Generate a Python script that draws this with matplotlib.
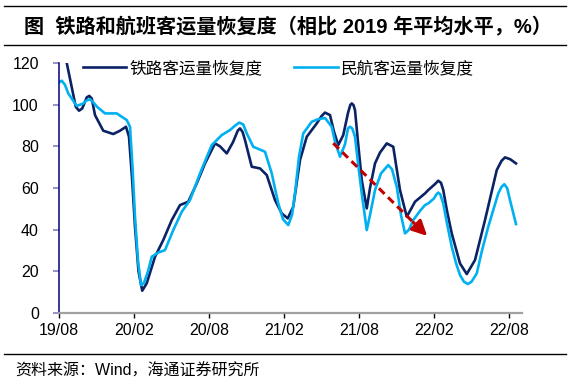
import matplotlib
matplotlib.use("Agg")
import matplotlib.pyplot as plt

plt.rcParams['font.family'] = ['Liberation Sans', 'Noto Sans CJK SC']

# x = months since 2019/08
rail_x = [0.32, 0.62, 1.34, 1.60, 1.86, 2.22, 2.42, 2.62, 2.88, 3.54, 4.34, 4.88, 5.36, 5.60,
          5.84, 6.08, 6.36, 6.66, 7.02, 7.68, 8.34, 9.02, 9.68, 10.34, 11.02, 11.68, 12.48,
          12.88, 13.42, 13.92, 14.30, 14.48, 14.68, 14.88, 15.42, 16.08, 16.62, 17.28, 17.82,
          18.30, 18.74, 19.28, 19.82, 20.62, 21.00, 21.28, 21.68, 22.00, 22.34, 22.74, 23.12,
          23.30, 23.42, 23.56, 23.68, 23.92, 24.22, 24.62, 24.88, 25.28, 25.68, 26.22, 26.74,
          27.28, 27.82, 28.08, 28.48, 29.28, 29.54, 30.10, 30.34, 30.56, 30.74, 31.04, 31.42,
          32.08, 32.62, 33.28, 34.08, 35.02, 35.40, 35.68, 36.10, 36.56]
rail_y = [127, 120, 99, 97.1, 98.2, 103.5, 104.2, 103, 95, 87.5, 85.9, 87.5, 89.4, 84.6,
          65, 41.4, 20, 10.7, 14.3, 27, 35, 44.6, 51.8, 53.4, 62.2, 71.8, 81.4,
          80, 76.6, 82, 87.5, 88.6, 87, 83, 70.2, 69.4, 66.2, 54.2, 47.8,
          45.4, 51, 73.4, 84.6, 91, 94.5, 96.2, 95, 87, 80.6, 85.4, 96,
          99.8, 100.6, 99.8, 97.4, 82, 63.8, 50.2, 60, 71.8, 77, 81.4, 79.8,
          59, 46.2, 49, 53.4, 57.4, 59, 62, 63.5, 62.5, 59, 49, 38.2,
          23.8, 18.7, 25.4, 44.6, 68.6, 73, 74.7, 73.8, 71.8]

air_x = [0.0, 0.22, 0.48, 0.74, 1.42, 1.92, 2.20, 2.48, 2.76, 3.04, 3.68, 4.62, 5.42, 5.68,
         5.88, 6.08, 6.32, 6.56, 6.80, 7.12, 7.42, 7.94, 8.48, 9.14, 9.82, 10.48, 11.28, 12.22,
         13.02, 13.68, 14.10, 14.42, 14.74, 15.02, 15.54, 16.48, 17.02, 17.54, 17.92, 18.34,
         18.64, 18.88, 19.20, 19.54, 20.22, 20.72, 21.28, 21.82, 22.08, 22.48, 22.88, 23.12,
         23.28, 23.46, 23.68, 23.92, 24.22, 24.62, 24.88, 25.28, 25.76, 26.34, 26.64, 27.02,
         27.36, 27.68, 28.00, 28.34, 28.88, 29.28, 29.54, 30.00, 30.20, 30.34, 30.50, 30.74,
         31.04, 31.42, 31.76, 32.08, 32.40, 32.70, 33.00, 33.42, 33.84, 34.34, 35.14, 35.40,
         35.62, 35.85, 36.08, 36.56]
air_y = [110.7, 111.5, 109.5, 105.4, 99.4, 100.5, 102, 102.6, 101, 99, 95.8, 95.8, 92.6, 89.4,
         70, 46.2, 25, 13.4, 14.5, 20, 27, 29, 30.2, 39.8, 48.6, 54.2, 67, 80.6,
         85.4, 87.8, 90, 91.4, 90.5, 86.2, 79.8, 77.4, 67, 52.6, 45, 42.2,
         47, 57.4, 75, 86.2, 91.8, 93, 93.6, 89.4, 82.2, 75, 81, 88.6,
         89.4, 88.6, 84.6, 72, 57.4, 39.8, 47, 59, 67, 71, 69, 60.6,
         47, 38.2, 40, 44.6, 49, 51.8, 52.6, 55, 57, 57.8, 57, 52.6,
         43, 31.8, 24, 18.2, 15, 13.9, 15, 19, 30, 41.4, 57.4, 60.5,
         61.8, 60, 54.2, 42.7]

tick_pos = [0, 6, 12, 18, 24, 30, 36]
tick_labels = ['19/08', '20/02', '20/08', '21/02', '21/08', '22/02', '22/08']

# trend arrow (start, end of dashes, tip)
arr_start = (21.94, 81.5)
arr_mid = (28.35, 43.5)
arr_tip = (29.45, 37.0)

navy = '#0B2265'
sky = '#00B0F0'
red = '#C00000'

fig = plt.figure(figsize=(5.7, 3.86), dpi=100)
ax = fig.add_axes([59/570, 1-313/386, (522-59)/570, 250/386])

ax.plot(rail_x, rail_y, color=navy, lw=1.9, solid_joinstyle='round', label='铁路客运量恢复度')
ax.plot(air_x, air_y, color=sky, lw=1.9, solid_joinstyle='round', label='民航客运量恢复度')

ax.plot([arr_start[0], arr_mid[0]], [arr_start[1], arr_mid[1]], color=red, lw=2.2,
        dashes=(2.6, 1.6))
ax.annotate('', xy=arr_tip, xytext=arr_mid,
            arrowprops=dict(arrowstyle='-|>,head_length=0.9,head_width=0.45',
                            color=red, lw=2.2, shrinkA=0, shrinkB=0))

ax.set_xlim(0, 37.04)
ax.set_ylim(0, 120)
ax.set_yticks(range(0, 121, 20))
ax.set_xticks(tick_pos)
ax.set_xticklabels(tick_labels)

for s in ['top', 'right']:
    ax.spines[s].set_visible(False)
ax.spines['left'].set_color('#000080')
ax.spines['left'].set_linewidth(1.1)
ax.spines['bottom'].set_color('#A0A0A0')
ax.spines['bottom'].set_linewidth(1.6)

ax.tick_params(axis='y', length=4.5, width=1.2, color='#8080C0', pad=10, labelsize=11.5)
ax.tick_params(axis='x', length=3.5, width=1.0, color='black', pad=4, labelsize=11.5)

ax.legend(loc='upper left', bbox_to_anchor=(83/570, 1-60/386), bbox_transform=fig.transFigure,
          ncol=2, frameon=False, fontsize=12, handlelength=2.6, handletextpad=0.2,
          columnspacing=1.9, borderaxespad=0, borderpad=0)

# title and frame lines
fig.add_artist(plt.Line2D([4/570, 566/570], [1-6/386, 1-6/386], color='black', lw=1.0))
fig.add_artist(plt.Line2D([4/570, 566/570], [1-45/386, 1-45/386], color='black', lw=1.0))
fig.add_artist(plt.Line2D([4/570, 566/570], [1-354/386, 1-354/386], color='black', lw=1.0))
fig.text(24/570, 1-27/386, '图  铁路和航班客运量恢复度（相比 2019 年平均水平，%）',
         fontsize=14.5, fontweight='bold', va='center', ha='left')
fig.text(15/570, 1-371/386, '资料来源：Wind，海通证券研究所', fontsize=11.5, va='center', ha='left')

fig.savefig('out.png', dpi=100)
